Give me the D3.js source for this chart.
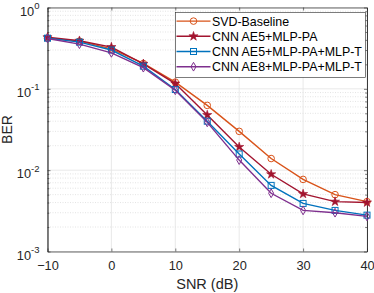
<!DOCTYPE html>
<html>
<head>
<meta charset="utf-8">
<script src="https://cdn.jsdelivr.net/npm/d3@7"></script>
<style>
  body { margin: 0; background: #fff; }
  svg { display: block; font-family: "Liberation Sans", Arial, sans-serif; }
</style>
</head>
<body>
<svg width="374" height="293"></svg>
<script>
const snr = [-10, -5, 0, 5, 10, 15, 20, 25, 30, 35, 40]
const svdBaseline = [0.42, 0.386, 0.31, 0.205, 0.121, 0.0626, 0.030, 0.0139, 0.0077, 0.0050, 0.0041]
const ae5Pa = [0.43, 0.39, 0.326, 0.203, 0.116, 0.0476, 0.0193, 0.0089, 0.0051, 0.0041, 0.0040]
const ae5PaT = [0.42, 0.375, 0.30, 0.19, 0.098, 0.040, 0.0158, 0.0065, 0.0039, 0.0032, 0.0028]
const ae8PaT = [0.416, 0.354, 0.277, 0.182, 0.096, 0.0387, 0.0133, 0.0052, 0.0032, 0.0030, 0.0027]
const seriesNames = ['SVD-Baseline', 'CNN AE5+MLP-PA', 'CNN AE5+MLP-PA+MLP-T', 'CNN AE8+MLP-PA+MLP-T']
const xTicks = [-10, 0, 10, 20, 30, 40]
const yDecades = [1e-3, 1e-2, 1e-1, 1]

const series = [
  {name: seriesNames[0], values: svdBaseline, color: '#D95319', marker: 'circle'},
  {name: seriesNames[1], values: ae5Pa, color: '#A2142F', marker: 'star'},
  {name: seriesNames[2], values: ae5PaT, color: '#0072BD', marker: 'square'},
  {name: seriesNames[3], values: ae8PaT, color: '#7E2F8E', marker: 'diamond'}
]

const svg = d3.select('svg'),
    margin = {top: 7.5, right: 7, bottom: 41.5, left: 47.5},
    width = 374 - margin.left - margin.right,
    height = 293 - margin.top - margin.bottom,
    x = d3.scaleLinear().domain([-10, 40]).range([0, width]),
    y = d3.scaleLog().domain([1e-3, 1]).range([height, 0]),
    chart = svg.append('g')
      .attr('transform', 'translate(' + margin.left + ',' + margin.top + ')')

// minor values 2..9 per decade
const minors = []
yDecades.slice(0, -1).forEach(d => { for (let k = 2; k <= 9; k++) minors.push(d * k) })

// grid
chart.append('g').selectAll('line.minor').data(minors).enter().append('line')
  .attr('x1', 0).attr('x2', width)
  .attr('y1', d => y(d)).attr('y2', d => y(d))
  .attr('stroke', '#d8d8d8').attr('stroke-width', 0.7).attr('stroke-dasharray', '1,1.5')
chart.append('g').selectAll('line.major').data(yDecades).enter().append('line')
  .attr('x1', 0).attr('x2', width)
  .attr('y1', d => y(d)).attr('y2', d => y(d))
  .attr('stroke', '#e3e3e3').attr('stroke-width', 0.8)
chart.append('g').selectAll('line.xg').data(xTicks).enter().append('line')
  .attr('x1', d => x(d)).attr('x2', d => x(d))
  .attr('y1', 0).attr('y2', height)
  .attr('stroke', '#e3e3e3').attr('stroke-width', 0.8)

// axes (ticks inward)
const axisColor = '#262626'
const xAxis = chart.append('g')
  .attr('transform', 'translate(0,' + height + ')')
  .call(d3.axisBottom(x).tickValues(xTicks).tickSizeInner(-3).tickSizeOuter(0).tickPadding(9))
const xTop = chart.append('g')
  .call(d3.axisTop(x).tickValues(xTicks).tickSizeInner(-3).tickSizeOuter(0).tickFormat(''))
const yAxis = chart.append('g')
  .call(d3.axisLeft(y).tickValues(yDecades).tickSizeInner(-3).tickSizeOuter(0).tickFormat(''))
const yRight = chart.append('g')
  .attr('transform', 'translate(' + width + ',0)')
  .call(d3.axisRight(y).tickValues(yDecades).tickSizeInner(-3).tickSizeOuter(0).tickFormat(''))
const yMinorL = chart.append('g')
  .call(d3.axisLeft(y).tickValues(minors).tickSizeInner(-1.8).tickSizeOuter(0).tickFormat(''))
const yMinorR = chart.append('g')
  .attr('transform', 'translate(' + width + ',0)')
  .call(d3.axisRight(y).tickValues(minors).tickSizeInner(-1.8).tickSizeOuter(0).tickFormat(''))

;[xAxis, xTop, yAxis, yRight, yMinorL, yMinorR].forEach(a => {
  a.selectAll('path').attr('stroke', axisColor).attr('stroke-width', 0.7)
  a.selectAll('line').attr('stroke', axisColor).attr('stroke-width', 0.6)
})
xAxis.selectAll('text').attr('font-size', 12.8).attr('fill', axisColor)
  .attr('font-family', '"Liberation Sans", Arial, sans-serif')

// y tick labels as 10^k
yDecades.forEach(d => {
  const t = chart.append('text')
    .attr('x', -8).attr('y', y(d) + 8)
    .attr('text-anchor', 'end').attr('fill', axisColor).attr('font-size', 12.8)
  t.append('tspan').text('10')
  t.append('tspan').attr('dy', -6.5).attr('font-size', 9.5).text(Math.round(Math.log10(d)))
})

// axis titles
svg.append('text')
  .attr('x', margin.left + width / 2).attr('y', 289)
  .attr('text-anchor', 'middle').attr('font-size', 14.5).attr('fill', axisColor)
  .text('SNR (dB)')
svg.append('text')
  .attr('transform', 'translate(12,' + (margin.top + height / 2) + ') rotate(-90)')
  .attr('text-anchor', 'middle').attr('font-size', 14).attr('fill', axisColor)
  .text('BER')

function drawMarker(g, type, color) {
  if (type === 'circle') {
    g.append('circle').attr('r', 3.3).attr('fill', 'none').attr('stroke', color).attr('stroke-width', 1)
  } else if (type === 'square') {
    g.append('rect').attr('x', -3).attr('y', -3).attr('width', 6).attr('height', 6)
      .attr('fill', 'none').attr('stroke', color).attr('stroke-width', 1)
  } else if (type === 'diamond') {
    g.append('path').attr('d', d3.symbol().type(d3.symbolDiamond).size(22))
      .attr('fill', 'none').attr('stroke', color).attr('stroke-width', 1)
  } else if (type === 'star') {
    g.append('path').attr('d', d3.symbol().type(d3.symbolStar).size(26))
      .attr('fill', color).attr('stroke', color).attr('stroke-width', 0.6)
  }
}

const line = d3.line().x((d, i) => x(snr[i])).y(d => y(d))
series.forEach(s => {
  chart.append('path').datum(s.values)
    .attr('d', line).attr('fill', 'none').attr('stroke', s.color).attr('stroke-width', 1.4)
  s.values.forEach((v, i) => {
    const g = chart.append('g').attr('transform', 'translate(' + x(snr[i]) + ',' + y(v) + ')')
    drawMarker(g, s.marker, s.color)
  })
})

// legend
const legend = svg.append('g').attr('transform', 'translate(175.5,12.3)')
legend.append('rect').attr('width', 190).attr('height', 65)
  .attr('fill', '#fff').attr('stroke', axisColor).attr('stroke-width', 0.6)
series.forEach((s, i) => {
  const ly = 8.8 + i * 15.2
  legend.append('line').attr('x1', 1).attr('x2', 35).attr('y1', ly).attr('y2', ly)
    .attr('stroke', s.color).attr('stroke-width', 1.4)
  drawMarker(legend.append('g').attr('transform', 'translate(18,' + ly + ')'), s.marker, s.color)
  legend.append('text').attr('x', 36.5).attr('y', ly + 4.5)
    .attr('font-size', 12.4).attr('fill', '#000').text(s.name)
})
</script>
</body>
</html>
